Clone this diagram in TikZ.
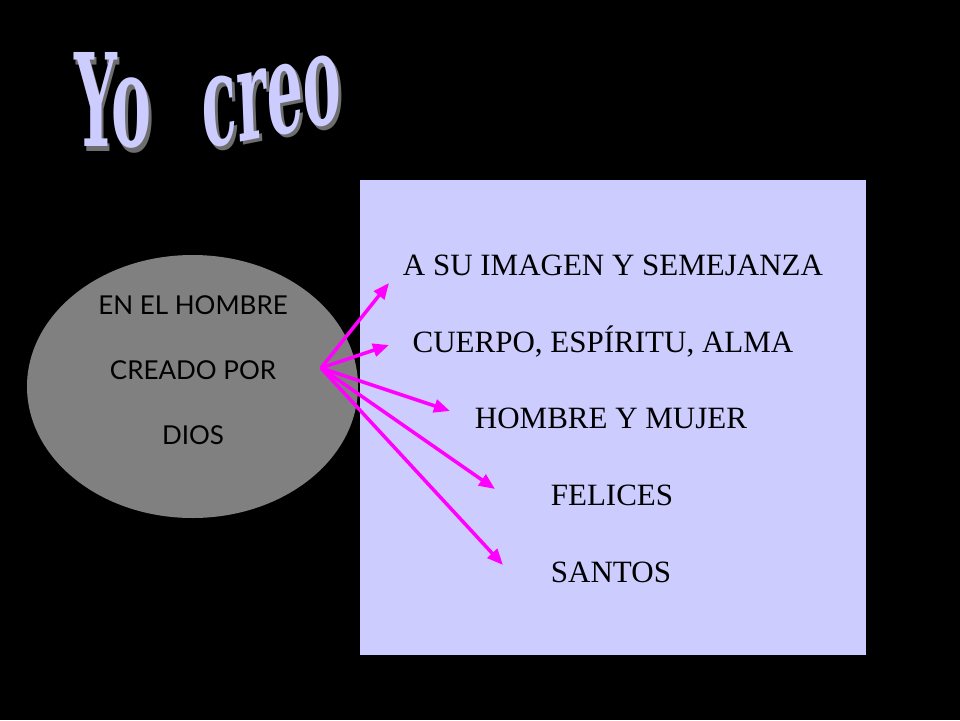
\documentclass[tikz,border=0pt]{standalone}
\usepackage{fontspec}
\setmainfont{Liberation Serif}
\newfontfamily\circfont{Lato}
\newfontfamily\titlefont{DejaVu Serif}
\usetikzlibrary{shapes.geometric,arrows.meta}
\definecolor{lavanda}{HTML}{CCCCFF}
\definecolor{gris}{HTML}{808080}
\definecolor{sombra}{HTML}{6E6E6E}
\definecolor{fucsia}{HTML}{FF00FF}
\newcommand{\conSombra}[1]{\makebox[0pt][l]{\kern2.5pt\raisebox{-2pt}{\textcolor{sombra}{#1}}}#1}
\tikzset{
  item/.style={font=\fontsize{31}{31}\selectfont,text=black,anchor=center},
  flecha/.style={draw=fucsia,line width=3.5pt,-{Triangle[length=16pt,width=13pt,fill=fucsia]}},
  titulo/.style={font=\fontsize{60}{60}\bfseries\titlefont,text=lavanda,yscale=2.15,transform shape}
}
\begin{document}
\begin{tikzpicture}[x=1pt,y=-1pt]
        \fill[black] (0,0) rectangle (960,720);
        \useasboundingbox (0,0) rectangle (960,720);
        % titulo
        \node[titulo,xscale=1.0] (yo) at (113,103) {\conSombra{Yo}};
        \node[titulo,xscale=0.95,rotate=5] (creo) at (272,104) {\conSombra{creo}};
        % caja
        \node[rectangle,fill=lavanda,minimum width=506,minimum height=475,inner sep=0] (caja) at (613,417.5) {};
        \node[ellipse,fill=gris,minimum width=331,minimum height=263,inner sep=0] (hombre) at (192.5,386.5) {};
        \node[font=\fontsize{26}{65}\circfont,align=center] (txt) at (193,370) {EN EL HOMBRE\\CREADO POR\\DIOS};
        \node[item] (a1) at (613,265) {A SU IMAGEN Y SEMEJANZA};
        \node[item] (a2) at (603,342) {CUERPO, ESPÍRITU, ALMA};
        \node[item] (a3) at (611,418) {HOMBRE Y MUJER};
        \node[item] (a4) at (612,495) {FELICES};
        \node[item] (a5) at (611,572) {SANTOS};
        \coordinate (src) at (321,368);
        \coordinate (t1) at (389,283);
        \coordinate (t2) at (389,345);
        \coordinate (t3) at (450,411);
        \coordinate (t4) at (495,489);
        \coordinate (t5) at (503,565);
        \path (src) edge[flecha] (t1);
        \path (src) edge[flecha] (t2);
        \path (src) edge[flecha] (t3);
        \path (src) edge[flecha] (t4);
        \path (src) edge[flecha] (t5);
\end{tikzpicture}
\end{document}
